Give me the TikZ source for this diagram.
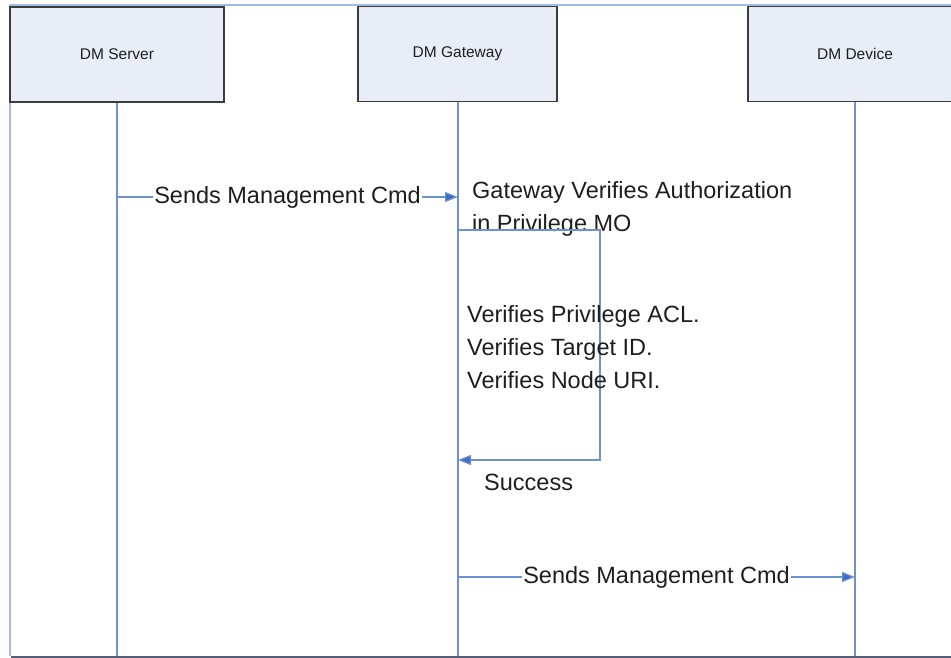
\documentclass[tikz,border=0pt]{standalone}
\usepackage{fontspec}
\setmainfont{Liberation Sans}
\usetikzlibrary{arrows.meta}
\definecolor{lifeblue}{RGB}{110,145,210}
\definecolor{frameblue}{RGB}{165,185,230}
\definecolor{boxfill}{RGB}{232,237,248}
\definecolor{boxline}{RGB}{60,60,60}
\definecolor{tipblue}{RGB}{60,110,195}
\definecolor{txt}{RGB}{30,30,30}
\definecolor{bottomline}{RGB}{85,95,115}
\tikzset{
  actor/.style={draw=boxline, line width=1.3pt, fill=boxfill, minimum height=95pt,
    inner sep=0pt, font=\fontsize{15.5}{18}\selectfont, text=txt},
  lifeline/.style={draw=lifeblue, line width=1.2pt},
  msg/.style={draw=lifeblue, line width=1.2pt, -{Triangle[length=13pt,width=10pt,fill=tipblue]}},
  msglabel/.style={fill=white, inner sep=1pt, font=\fontsize{23.5}{28}\selectfont, text=txt},
  note/.style={anchor=west, inner sep=0pt, align=left, text=txt,
    font=\fontsize{23.5}{33}\selectfont}
}
\begin{document}
\begin{tikzpicture}[x=1pt,y=-1pt]
\useasboundingbox (0,0) rectangle (951,658);
\begin{scope}
\clip (0,0) rectangle (951,658);
% frame
\draw[frameblue, line width=1.5pt] (10,5) -- (951,5);
\draw[frameblue, line width=1.5pt] (10,5) -- (10,656);
\draw[bottomline, line width=2pt] (11,656.5) -- (951,656.5);
% actors
\node[actor, minimum width=214pt] (srv) at (117,54.5) {DM Server};
\node[actor, minimum width=199pt] (gw) at (457.5,54) {DM Gateway};
\node[actor, minimum width=214pt] (dev) at (855,54) {DM Device};
% lifeline ends
\coordinate (srvend) at (117,656);
\coordinate (gwend) at (458,656);
\coordinate (devend) at (855,656);
\draw[lifeline] (srv.south) -- (srvend);
\draw[lifeline] (gw.south -| gwend) -- (gwend);
\draw[lifeline] (dev.south) -- (devend);
% message 1
\coordinate (m1s) at (117,197);
\coordinate (m1e) at (458,197);
\draw[msg] (m1s) -- node[msglabel] (m1lab) {Sends Management Cmd} (m1e);
% gateway note
\node[note] (gwnote) at (472,209) {Gateway Verifies Authorization\\in Privilege MO};
% self loop
\coordinate (l1) at (458,230);
\coordinate (l2) at (600,230);
\coordinate (l3) at (600,460);
\coordinate (l4) at (458,460);
\draw[msg] (l1) -- (l2) -- (l3) -- (l4);
\node[note] (checks) at (467,347.5) {Verifies Privilege ACL.\\Verifies Target ID.\\Verifies Node URI.};
\node[note] (success) at (484,482) {Success};
% message 2
\coordinate (m2s) at (458,577);
\coordinate (m2e) at (855,577);
\draw[msg] (m2s) -- node[msglabel] (m2lab) {Sends Management Cmd} (m2e);
\end{scope}
\end{tikzpicture}
\end{document}
